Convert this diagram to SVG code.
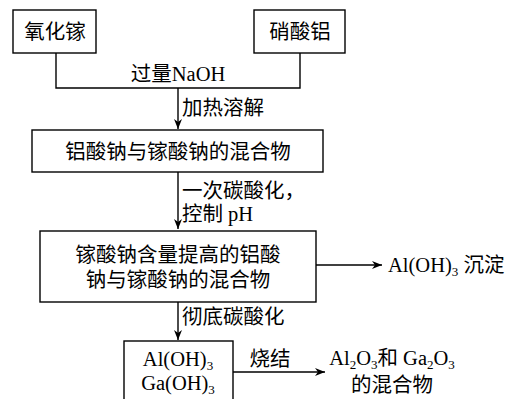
<svg xmlns="http://www.w3.org/2000/svg" width="509" height="399" viewBox="0 0 509 399">
<defs>
<style>
.b{fill:#fff;stroke:#000;stroke-width:1.4}
.l{fill:none;stroke:#000;stroke-width:1.4}
text{font-family:"Liberation Serif","Noto Sans CJK SC",serif;font-size:20.5px;fill:#000}
.m{text-anchor:middle}
.s{font-size:13px}
</style>
<marker id="a" viewBox="0 0 10 10" refX="10" refY="5" markerWidth="10" markerHeight="10" markerUnits="userSpaceOnUse" orient="auto">
<path d="M0,1 L10,5 L0,9 L3,5 Z" fill="#000"/>
</marker>
</defs>
<g id="connectors">
<path class="l" d="M56,53 V88 H300 V53"/>
<path class="l" d="M178,88 V129" marker-end="url(#a)"/>
<path class="l" d="M178,172 V229" marker-end="url(#a)"/>
<path class="l" d="M316,265 H382" marker-end="url(#a)"/>
<path class="l" d="M178,302 V340" marker-end="url(#a)"/>
<path class="l" d="M233,372 H325" marker-end="url(#a)"/>
<text class="m" x="178" y="81">过量NaOH</text>
<text x="182" y="115">加热溶解</text>
<text x="182" y="198">一次碳酸化，</text>
<text x="182" y="221">控制 pH</text>
<text x="182" y="324">彻底碳酸化</text>
<text class="m" x="270" y="366">烧结</text>
</g>
<g id="n1"><rect class="b" x="13" y="10" width="83" height="43"/><text class="m" x="55" y="39">氧化镓</text></g>
<g id="n2"><rect class="b" x="254" y="10" width="91" height="43"/><text class="m" x="300" y="39">硝酸铝</text></g>
<g id="n3"><rect class="b" x="32" y="130" width="291" height="42"/><text class="m" x="178" y="159">铝酸钠与镓酸钠的混合物</text></g>
<g id="n4"><rect class="b" x="40" y="231" width="276" height="71"/><text class="m" x="178" y="262">镓酸钠含量提高的铝酸</text><text class="m" x="178" y="287">钠与镓酸钠的混合物</text></g>
<g id="n5"><rect class="b" x="124" y="341" width="109" height="70"/><text class="m" x="178" y="366">Al(OH)<tspan class="s" dy="4">3</tspan></text><text class="m" x="178" y="390">Ga(OH)<tspan class="s" dy="4">3</tspan></text></g>
<g id="n6"><text x="388" y="272">Al(OH)<tspan class="s" dy="4">3</tspan><tspan dy="-4"> 沉淀</tspan></text></g>
<g id="n7"><text class="m" x="392" y="365">Al<tspan class="s" dy="4">2</tspan><tspan dy="-4">O</tspan><tspan class="s" dy="4">3</tspan><tspan dy="-4">和 Ga</tspan><tspan class="s" dy="4">2</tspan><tspan dy="-4">O</tspan><tspan class="s" dy="4">3</tspan></text><text class="m" x="392" y="392">的混合物</text></g>
</svg>
